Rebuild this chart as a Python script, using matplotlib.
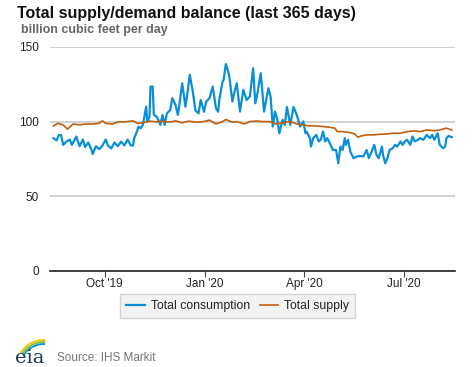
import matplotlib
matplotlib.use("Agg")
import matplotlib.pyplot as plt
from matplotlib.patches import Arc
import pandas as pd

plt.rcParams["font.family"] = ["Liberation Sans", "DejaVu Sans"]

# Total consumption, bcf/d
cons_dates = [
    "2019-08-15", "2019-08-18", "2019-08-20", "2019-08-22", "2019-08-24", "2019-08-27",
    "2019-08-30", "2019-09-01", "2019-09-05", "2019-09-08", "2019-09-11", "2019-09-13",
    "2019-09-16", "2019-09-19", "2019-09-20", "2019-09-23", "2019-09-26", "2019-09-29",
    "2019-10-02", "2019-10-04", "2019-10-07", "2019-10-10", "2019-10-13", "2019-10-16",
    "2019-10-19", "2019-10-22", "2019-10-25", "2019-10-27", "2019-10-28", "2019-10-30",
    "2019-11-01", "2019-11-03", "2019-11-05", "2019-11-08", "2019-11-09", "2019-11-11",
    "2019-11-12", "2019-11-14", "2019-11-15", "2019-11-18", "2019-11-21", "2019-11-23",
    "2019-11-25", "2019-11-27", "2019-11-30", "2019-12-02", "2019-12-05", "2019-12-07",
    "2019-12-08", "2019-12-11", "2019-12-14", "2019-12-16", "2019-12-18", "2019-12-21",
    "2019-12-23", "2019-12-26", "2019-12-28", "2019-12-31", "2020-01-02", "2020-01-05",
    "2020-01-08", "2020-01-11", "2020-01-13", "2020-01-14", "2020-01-17", "2020-01-18",
    "2020-01-20", "2020-01-23", "2020-01-25", "2020-01-26", "2020-01-28", "2020-01-30",
    "2020-02-02", "2020-02-05", "2020-02-08", "2020-02-11", "2020-02-14", "2020-02-16",
    "2020-02-18", "2020-02-21", "2020-02-24", "2020-02-28", "2020-03-01", "2020-03-03",
    "2020-03-05", "2020-03-07", "2020-03-09", "2020-03-12", "2020-03-14", "2020-03-16",
    "2020-03-19", "2020-03-22", "2020-03-25", "2020-03-28", "2020-03-31", "2020-04-02",
    "2020-04-03", "2020-04-06", "2020-04-07", "2020-04-09", "2020-04-12", "2020-04-14",
    "2020-04-16", "2020-04-18", "2020-04-20", "2020-04-22", "2020-04-25", "2020-04-27",
    "2020-04-30", "2020-05-02", "2020-05-04", "2020-05-06", "2020-05-08", "2020-05-09",
    "2020-05-11", "2020-05-13", "2020-05-16", "2020-05-19", "2020-05-22", "2020-05-25",
    "2020-05-28", "2020-05-30", "2020-06-01", "2020-06-04", "2020-06-06", "2020-06-08",
    "2020-06-11", "2020-06-12", "2020-06-14", "2020-06-16", "2020-06-18", "2020-06-21",
    "2020-06-23", "2020-06-25", "2020-06-28", "2020-06-30", "2020-07-02", "2020-07-04",
    "2020-07-07", "2020-07-09", "2020-07-11", "2020-07-14", "2020-07-16", "2020-07-19",
    "2020-07-21", "2020-07-22", "2020-07-25", "2020-07-27", "2020-07-29", "2020-08-01",
    "2020-08-03", "2020-08-06", "2020-08-08", "2020-08-09", "2020-08-11", "2020-08-14",
]
consumption = [
    88.9, 87.4, 91.0, 91.0, 84.4, 86.6,
    88.0, 84.4, 90.0, 83.5, 88.0, 83.0,
    86.0, 81.0, 78.2, 83.5, 81.5, 84.0,
    88.0, 84.0, 82.0, 86.0, 83.5, 86.6,
    84.0, 88.0, 84.0, 84.0, 88.9, 92.2,
    96.6, 95.6, 97.8, 110.0, 100.0, 103.0,
    123.5, 123.5, 104.7, 103.0, 97.8, 104.5,
    97.8, 105.5, 107.7, 115.7, 111.0, 104.5,
    108.8, 125.7, 110.0, 120.2, 131.3, 119.0,
    107.7, 105.5, 114.5, 106.6, 113.4, 115.7,
    123.5, 108.8, 106.6, 114.5, 126.8, 128.0,
    138.6, 131.3, 119.0, 113.4, 120.2, 125.7,
    106.7, 121.3, 114.5, 116.8, 135.7, 112.3,
    119.0, 132.5, 106.7, 122.4, 116.8, 96.7,
    106.7, 102.0, 92.2, 101.2, 97.8, 109.8,
    97.8, 109.8, 104.5, 96.7, 100.1, 92.2,
    93.3, 88.9, 83.3, 88.9, 91.1, 86.7,
    87.8, 93.3, 86.7, 88.9, 84.4, 81.0,
    81.0, 72.1, 83.3, 81.0, 88.9, 84.4,
    87.8, 80.0, 75.5, 76.6, 77.0, 76.6,
    81.0, 75.5, 78.9, 84.4, 77.7, 75.5,
    83.3, 77.7, 72.1, 75.5, 81.0, 82.2,
    84.4, 83.3, 86.7, 84.4, 86.7, 87.8,
    84.4, 90.0, 86.7, 87.8, 88.9, 87.8,
    90.0, 91.1, 88.9, 91.1, 87.8, 92.2,
    84.4, 82.2, 83.3, 88.9, 90.4, 89.6,
]

# Total supply, bcf/d
supply_dates = [
    "2019-08-15", "2019-08-19", "2019-08-24", "2019-08-28", "2019-09-02", "2019-09-08",
    "2019-09-14", "2019-09-20", "2019-09-26", "2019-09-29", "2019-10-02", "2019-10-08",
    "2019-10-14", "2019-10-20", "2019-10-27", "2019-10-31", "2019-11-05", "2019-11-11",
    "2019-11-17", "2019-11-23", "2019-11-29", "2019-12-05", "2019-12-11", "2019-12-17",
    "2019-12-24", "2019-12-30", "2020-01-05", "2020-01-11", "2020-01-16", "2020-01-20",
    "2020-01-26", "2020-01-30", "2020-02-06", "2020-02-11", "2020-02-17", "2020-02-23",
    "2020-02-29", "2020-03-06", "2020-03-12", "2020-03-19", "2020-03-25", "2020-03-31",
    "2020-04-06", "2020-04-12", "2020-04-18", "2020-04-24", "2020-04-29", "2020-05-01",
    "2020-05-06", "2020-05-13", "2020-05-17", "2020-05-20", "2020-05-23", "2020-05-28",
    "2020-06-03", "2020-06-09", "2020-06-15", "2020-06-21", "2020-06-28", "2020-07-04",
    "2020-07-10", "2020-07-16", "2020-07-22", "2020-07-29", "2020-08-03", "2020-08-09",
    "2020-08-14",
]
supply = [
    97.1, 98.8, 97.8, 94.9, 98.4, 97.8,
    98.4, 98.4, 98.8, 100.5, 98.8, 98.4,
    99.9, 99.9, 100.5, 98.8, 99.2, 100.3,
    99.9, 100.3, 99.6, 100.5, 99.2, 100.3,
    99.6, 99.9, 101.0, 98.4, 99.6, 101.4,
    99.6, 100.0, 98.4, 100.0, 100.4, 100.0,
    100.0, 98.4, 99.3, 100.0, 98.4, 97.8,
    97.1, 97.1, 96.7, 96.2, 95.6, 93.3,
    93.3, 92.6, 91.7, 89.5, 90.4, 91.1,
    91.1, 91.5, 91.7, 92.2, 92.2, 93.3,
    93.8, 93.3, 94.4, 93.9, 94.4, 95.6,
    94.4,
]

tick_dates = ["2019-10-01", "2020-01-01", "2020-04-01", "2020-07-01"]
tick_labels = ["Oct '19", "Jan '20", "Apr '20", "Jul '20"]
y_ticks = [0, 50, 100, 150]

blue = "#0a8fd6"
orange = "#c0600e"

fig = plt.figure(figsize=(4.77, 3.67), dpi=100)
ax = fig.add_axes([0.105, 0.262, 0.849, 0.61])

ax.plot(pd.to_datetime(cons_dates), consumption, color=blue, lw=1.6,
        label="Total consumption", solid_joinstyle="round")
ax.plot(pd.to_datetime(supply_dates), supply, color=orange, lw=1.2,
        label="Total supply")

ax.set_xlim(pd.Timestamp("2019-08-12"), pd.Timestamp("2020-08-17"))
ax.set_ylim(0, 150)
ax.set_yticks(y_ticks)
ax.set_xticks(pd.to_datetime(tick_dates))
ax.set_xticklabels(tick_labels)

for s in ["top", "right", "left"]:
    ax.spines[s].set_visible(False)
ax.spines["bottom"].set_color("#222222")
ax.spines["bottom"].set_linewidth(1.2)
ax.grid(axis="y", color="#c8c8c8", lw=1.2)
ax.set_axisbelow(True)
ax.tick_params(axis="y", length=0, labelsize=8.5, labelcolor="#222222", pad=8)
ax.tick_params(axis="x", length=4, color="#444444", labelsize=8.5,
               labelcolor="#222222", pad=1)

leg = ax.legend(loc="upper center", bbox_to_anchor=(0.463, -0.075), ncol=2,
                frameon=True, fontsize=8.8, handlelength=1.5, handletextpad=0.5,
                columnspacing=0.8, borderpad=0.5, fancybox=False)
leg.get_frame().set_facecolor("#f0f0f0")
leg.get_frame().set_edgecolor("#cccccc")
for t in leg.get_texts():
    t.set_color("#222222")

fig.text(0.036, 0.963, "Total supply/demand balance (last 365 days)",
         fontsize=11.5, fontweight="bold", color="#111111", va="center")
fig.text(0.044, 0.918, "billion cubic feet per day", fontsize=9,
         fontweight="bold", color="#666666", va="center")

# eia logo (approximation) and source note
fig.text(0.032, 0.0, "eia", fontsize=14, family="DejaVu Serif",
         color="#1a3a5c", va="bottom")
for r, c in [(28, "#f2c300"), (26, "#7cbf3a"), (24, "#0a8fd6")]:
    fig.add_artist(Arc((44 / 477, -1 / 367), 2 * r / 477, 2 * r / 367,
                       theta1=88, theta2=140, transform=fig.transFigure,
                       color=c, lw=1.3))
fig.text(0.119, 0.025, "Source: IHS Markit", fontsize=8.5, color="#777777",
         va="center")

fig.savefig("out.png", dpi=100)
